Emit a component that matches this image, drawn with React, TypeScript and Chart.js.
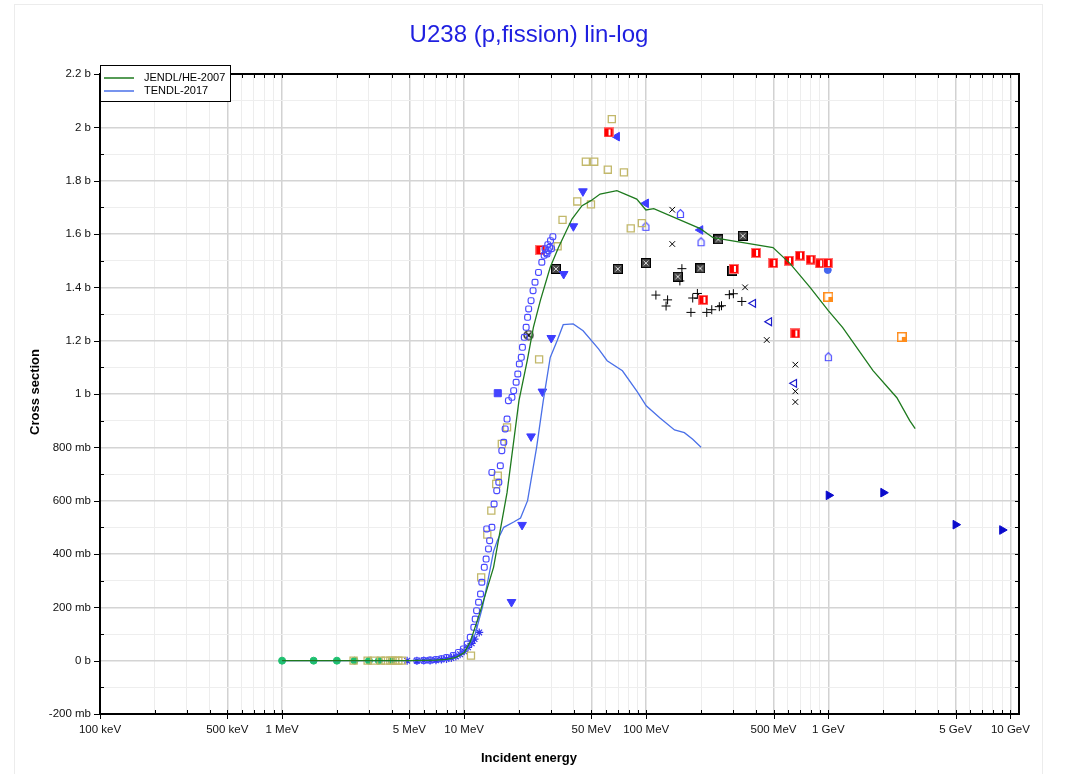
import { useEffect, useRef } from "react";
import { Chart, registerables } from "chart.js";
Chart.register(...registerables);

const FONT = '"Liberation Sans", Arial, Helvetica, sans-serif';

// Axis ranges (energy in MeV, cross section in barns)
const xMin = 0.1;
const xMax = 11150;
const yMin = -0.2;
const yMax = 2.2;

const xLabelValues = [0.1, 0.5, 1, 5, 10, 50, 100, 500, 1000, 5000, 10000];
const xLabels = ["100 keV", "500 keV", "1 MeV", "5 MeV", "10 MeV", "50 MeV", "100 MeV", "500 MeV", "1 GeV", "5 GeV", "10 GeV"];
const yLabelValues = [-0.2, 0, 0.2, 0.4, 0.6, 0.8, 1, 1.2, 1.4, 1.6, 1.8, 2, 2.2];
const yLabels = ["-200 mb", "0 b", "200 mb", "400 mb", "600 mb", "800 mb", "1 b", "1.2 b", "1.4 b", "1.6 b", "1.8 b", "2 b", "2.2 b"];

// Evaluated curves
const jendlE = [1, 2, 3, 4, 5, 6, 7, 8, 9, 10, 10.8, 12.2, 14.5, 17.2, 20, 22.2, 24, 26.2, 29.7, 33, 39.1, 44.4, 49.7, 55.8, 69, 88.7, 99.6, 110, 198, 233, 497, 617, 794, 1000, 1200, 1760, 2380, 2800, 3000];
const jendlS = [0, 0, 0, 0, 0.0005, 0.001, 0.002, 0.005, 0.012, 0.03, 0.07, 0.18, 0.35, 0.63, 0.975, 1.125, 1.25, 1.35, 1.475, 1.55, 1.656, 1.706, 1.725, 1.75, 1.7625, 1.731, 1.69, 1.695, 1.62, 1.586, 1.549, 1.489, 1.4, 1.3125, 1.249, 1.0875, 0.986, 0.9, 0.87];

const tendlE = [1, 2, 3, 4, 5, 6, 7, 8, 9, 10.2, 11.5, 12.6, 13.5, 14.5, 15.2, 16.5, 18.7, 20.4, 22.3, 25, 27.2, 29.7, 32.4, 35, 39.7, 45, 54.7, 61, 74, 89, 100, 119, 143, 162, 180, 200];
const tendlS = [0, 0, 0, 0, 0.0005, 0.001, 0.002, 0.004, 0.01, 0.035, 0.1, 0.2, 0.3, 0.41, 0.45, 0.5, 0.52, 0.535, 0.6, 0.8, 0.975, 1.137, 1.2, 1.26, 1.263, 1.237, 1.169, 1.125, 1.087, 1.01, 0.956, 0.91, 0.865, 0.855, 0.83, 0.8];

// Experimental data sets
const blueSqE = [5.5, 6, 6.5, 7, 7.5, 8, 8.7, 9.3, 9.9, 10.4, 10.8, 11.3, 11.5, 11.7, 12.0, 12.3, 12.5, 12.9, 13.2, 13.3, 13.6, 13.8, 14.2, 14.2, 14.6, 15.1, 15.5, 15.8, 16.1, 16.5, 16.8, 17.2, 17.5, 18.3, 18.7, 19.3, 19.7, 20.1, 20.6, 20.9, 21.4, 21.9, 22.3, 22.6, 23.3, 23.9, 24.5, 25.6, 26.7, 27.5, 27.8, 28.2, 28.5, 28.8, 29, 29.5, 29.8, 30.2, 30.7];
const blueSqS = [0, 0.001, 0.002, 0.004, 0.007, 0.012, 0.019, 0.031, 0.044, 0.0625, 0.0875, 0.125, 0.156, 0.1875, 0.219, 0.25, 0.294, 0.35, 0.381, 0.494, 0.419, 0.45, 0.5, 0.706, 0.5875, 0.6375, 0.669, 0.731, 0.7875, 0.819, 0.869, 0.906, 0.975, 0.9875, 1.0125, 1.044, 1.075, 1.1125, 1.1375, 1.175, 1.2125, 1.25, 1.2875, 1.319, 1.35, 1.3875, 1.419, 1.456, 1.494, 1.52, 1.545, 1.53, 1.525, 1.56, 1.5375, 1.55, 1.575, 1.545, 1.59];

const oliveE = [2.47, 2.95, 3.2, 3.49, 3.7, 3.93, 4.05, 4.19, 4.35, 4.56, 10.9, 12.4, 13.4, 14.1, 15.0, 15.3, 16.1, 17.2, 25.8, 32.6, 34.7, 41.8, 46.6, 49.7, 51.8, 61.5, 64.7, 75.4, 82.2, 94.6];
const oliveS = [0, 0, 0, 0, 0, 0, 0, 0, 0, 0, 0.019, 0.3125, 0.4725, 0.5625, 0.6625, 0.694, 0.8125, 0.875, 1.13, 1.554, 1.653, 1.722, 1.871, 1.711, 1.871, 1.841, 2.031, 1.831, 1.621, 1.641];

const greenE = [1.0, 1.49, 2.0, 2.5, 3.0, 3.4, 4.0];
const greenS = [0, 0, 0, 0, 0, 0, 0];

const starE = [4.86, 5.5, 6.0, 6.5, 7.0, 7.5, 8.0, 8.5, 9.0, 9.5, 10.0, 10.5, 11.0, 11.4, 12.1];
const starS = [0, 0, 0.001, 0.001, 0.002, 0.004, 0.006, 0.01, 0.016, 0.024, 0.035, 0.05, 0.065, 0.081, 0.106];

const downTriE = [18.2, 20.8, 23.3, 26.9, 30.1, 35.2, 39.8, 44.9];
const downTriS = [0.22, 0.509, 0.841, 1.009, 1.21, 1.45, 1.629, 1.76];

const redE = [26.2, 62.1, 206, 303, 401, 499, 608, 659, 699, 800, 901, 993];
const redS = [1.54, 1.981, 1.353, 1.469, 1.529, 1.491, 1.5, 1.227, 1.519, 1.504, 1.49, 1.491];

const boxXE = [31.9, 69.8, 99.6, 149, 198, 249, 297, 339];
const boxXS = [1.469, 1.469, 1.491, 1.44, 1.471, 1.58, 1.4625, 1.593];

const plusE = [113, 128.5, 131, 153, 157, 176, 180, 191, 194, 215, 229, 252, 259, 286, 301, 335];
const plusS = [1.371, 1.33, 1.353, 1.424, 1.47, 1.306, 1.36, 1.377, 1.359, 1.306, 1.316, 1.3275, 1.331, 1.3725, 1.376, 1.347];

const xMarkE = [139, 139, 349, 459, 659, 659, 659];
const xMarkS = [1.691, 1.5625, 1.4, 1.2025, 1.11, 1.01, 0.97];

const leftTriE = [69, 99.6, 198];
const leftTriS = [1.965, 1.715, 1.615];

const houseE = [99.6, 154, 200, 1000];
const houseS = [1.629, 1.677, 1.571, 1.14];

const openLeftE = [387, 474, 650];
const openLeftS = [1.34, 1.271, 1.04];

const rightTriE = [1005, 2005, 5000, 9016];
const rightTriS = [0.62, 0.63, 0.51, 0.49];

const orangeE = [1000, 2535];
const orangeS = [1.364, 1.214];

const blueFillE = [15.3];
const blueFillS = [1.003];

const blueDotE = [993];
const blueDotS = [1.465];

const circXE = [22.6];
const circXS = [1.221];

const pts = (E: number[], S: number[]) => E.map((e, i) => ({ x: e, y: S[i] }));
const near = (a: number, b: number) => Math.abs(a - b) < 1e-6 * Math.max(1, Math.abs(b));

function xGridValues(): number[] {
  const out: number[] = [];
  for (let e = -1; e <= 4; e++)
    for (let m = 1; m <= 9; m++) {
      const v = Number((m * Math.pow(10, e)).toPrecision(6));
      if (v >= xMin && v <= xMax) out.push(v);
    }
  return out;
}
function yGridValues(): number[] {
  const out: number[] = [];
  for (let i = -2; i <= 22; i++) out.push(i / 10);
  return out;
}
const isXMajor = (v: number) => xLabelValues.some((l) => near(l, v));
const isYMajor = (v: number) => yLabelValues.some((l) => near(l, v));

function mk(w: number, h: number, draw: (c: CanvasRenderingContext2D) => void) {
  const c = document.createElement("canvas");
  c.width = w;
  c.height = h;
  draw(c.getContext("2d") as CanvasRenderingContext2D);
  return c;
}

const decor = {
  id: "decor",
  beforeDraw(chart: any) {
    const ctx = chart.ctx;
    ctx.save();
    ctx.strokeStyle = "#ececec";
    ctx.lineWidth = 1;
    ctx.strokeRect(14.5, 4.5, 1028, 820);
    ctx.restore();
  },
  afterDraw(chart: any) {
    const { ctx, chartArea: a, scales } = chart;
    const xs = scales.x;
    const ys = scales.y;
    ctx.save();
    ctx.strokeStyle = "#000";
    ctx.lineWidth = 1;
    ctx.beginPath();
    for (const v of xGridValues()) {
      const px = Math.round(xs.getPixelForValue(v)) + 0.5;
      const maj = isXMajor(v);
      ctx.moveTo(px, a.bottom - 4);
      ctx.lineTo(px, a.bottom + (maj ? 5 : 0));
      ctx.moveTo(px, a.top);
      ctx.lineTo(px, a.top + 4);
    }
    for (const v of yGridValues()) {
      const py = Math.round(ys.getPixelForValue(v)) + 0.5;
      const maj = isYMajor(v);
      if (maj) {
        ctx.moveTo(a.left - 6, py);
        ctx.lineTo(a.left, py);
      } else {
        ctx.moveTo(a.left, py);
        ctx.lineTo(a.left + 4, py);
      }
      ctx.moveTo(a.right - 4, py);
      ctx.lineTo(a.right, py);
    }
    ctx.stroke();
    ctx.lineWidth = 2;
    ctx.strokeRect(a.left, a.top, a.right - a.left, a.bottom - a.top);

    // title
    ctx.fillStyle = "#1f1fe0";
    ctx.font = `24px ${FONT}`;
    ctx.textAlign = "center";
    ctx.textBaseline = "middle";
    ctx.fillText("U238 (p,fission) lin-log", 529, 35);

    // axis titles
    ctx.fillStyle = "#000";
    ctx.font = `bold 13px ${FONT}`;
    ctx.fillText("Incident energy", 529, 758);
    ctx.save();
    ctx.translate(35, 392);
    ctx.rotate(-Math.PI / 2);
    ctx.fillText("Cross section", 0, 0);
    ctx.restore();

    // legend
    ctx.fillStyle = "#fff";
    ctx.fillRect(100, 65, 130, 37);
    ctx.lineWidth = 1;
    ctx.strokeStyle = "#000";
    ctx.strokeRect(100.5, 65.5, 130, 36);
    const items = [
      { label: "JENDL/HE-2007", color: "#1e7a1e", y: 78 },
      { label: "TENDL-2017", color: "#4a70e8", y: 91 },
    ];
    ctx.font = `11px ${FONT}`;
    ctx.textAlign = "left";
    for (const it of items) {
      ctx.strokeStyle = it.color;
      ctx.lineWidth = 1.5;
      ctx.beginPath();
      ctx.moveTo(104, it.y);
      ctx.lineTo(134, it.y);
      ctx.stroke();
      ctx.fillStyle = "#000";
      ctx.fillText(it.label, 144, it.y);
    }
    ctx.restore();
  },
};

export default function App() {
  const ref = useRef<HTMLCanvasElement | null>(null);
  useEffect(() => {
    if (!ref.current) return;

    const redHalf = mk(10, 10, (c) => {
      c.fillStyle = "#ff0000";
      c.fillRect(0, 0, 10, 10);
      c.strokeStyle = "#ff7070";
      c.strokeRect(0.5, 0.5, 9, 9);
      c.fillStyle = "#ffffff";
      c.fillRect(5, 2, 2, 6);
    });
    const boxX = mk(10, 10, (c) => {
      c.fillStyle = "#444";
      c.fillRect(0, 0, 10, 10);
      c.strokeStyle = "#000";
      c.strokeRect(0.5, 0.5, 9, 9);
      c.strokeStyle = "#ddd";
      c.lineWidth = 1;
      c.beginPath();
      c.moveTo(2.5, 2.5);
      c.lineTo(7.5, 7.5);
      c.moveTo(7.5, 2.5);
      c.lineTo(2.5, 7.5);
      c.stroke();
    });
    const house = mk(9, 11, (c) => {
      c.strokeStyle = "#4a4aff";
      c.lineWidth = 1.2;
      c.beginPath();
      c.moveTo(1.5, 9.5);
      c.lineTo(1.5, 4.5);
      c.lineTo(4.5, 1.5);
      c.lineTo(7.5, 4.5);
      c.lineTo(7.5, 9.5);
      c.closePath();
      c.stroke();
    });
    const orange = mk(10, 10, (c) => {
      c.fillStyle = "#fff";
      c.fillRect(0, 0, 10, 10);
      c.strokeStyle = "#ff8c1a";
      c.lineWidth = 1.5;
      c.strokeRect(0.75, 0.75, 8.5, 8.5);
      c.fillStyle = "#ff8c1a";
      c.fillRect(5, 5, 4, 4);
    });
    const circX = mk(11, 11, (c) => {
      c.strokeStyle = "#000";
      c.lineWidth = 1.2;
      c.beginPath();
      c.arc(5.5, 5.5, 4.5, 0, Math.PI * 2);
      c.moveTo(3, 3);
      c.lineTo(8, 8);
      c.moveTo(8, 3);
      c.lineTo(3, 8);
      c.stroke();
    });

    const none = "rgba(255,255,255,0)";
    const chart = new Chart(ref.current, {
      type: "scatter",
      data: {
        datasets: [
          { label: "JENDL/HE-2007", data: pts(jendlE, jendlS), showLine: true, borderColor: "#1e7a1e", borderWidth: 1.3, pointRadius: 0, tension: 0 },
          { label: "TENDL-2017", data: pts(tendlE, tendlS), showLine: true, borderColor: "#4a70e8", borderWidth: 1.3, pointRadius: 0, tension: 0 },
          { label: "blueSq", data: pts(blueSqE, blueSqS), pointStyle: "rectRounded", pointRadius: 3.4, borderColor: "#4a4aff", backgroundColor: none, borderWidth: 1.2 },
          { label: "olive", data: pts(oliveE, oliveS), pointStyle: "rect", pointRadius: 5, borderColor: "#c2b86a", backgroundColor: none, borderWidth: 1.3 },
          { label: "green", data: pts(greenE, greenS), pointStyle: "circle", pointRadius: 3.5, borderColor: "#1fc070", backgroundColor: "#1fc070" },
          { label: "star", data: pts(starE, starS), pointStyle: "star", pointRadius: 4, borderColor: "#3333ee", borderWidth: 1.2 },
          { label: "down", data: pts(downTriE, downTriS), pointStyle: "triangle", rotation: 180, pointRadius: 5, borderColor: "#3d3dff", backgroundColor: "#3d3dff" },
          { label: "red", data: pts(redE, redS), pointStyle: redHalf, pointRadius: 5 },
          { label: "boxX", data: pts(boxXE, boxXS), pointStyle: boxX, pointRadius: 5 },
          { label: "plus", data: pts(plusE, plusS), pointStyle: "cross", pointRadius: 4.5, borderColor: "#000", borderWidth: 1 },
          { label: "xmark", data: pts(xMarkE, xMarkS), pointStyle: "crossRot", pointRadius: 4, borderColor: "#000", borderWidth: 1 },
          { label: "left", data: pts(leftTriE, leftTriS), pointStyle: "triangle", rotation: 270, pointRadius: 5, borderColor: "#3d3dff", backgroundColor: "#3d3dff" },
          { label: "house", data: pts(houseE, houseS), pointStyle: house, pointRadius: 5 },
          { label: "openLeft", data: pts(openLeftE, openLeftS), pointStyle: "triangle", rotation: 270, pointRadius: 4.5, borderColor: "#1a1acc", backgroundColor: none, borderWidth: 1.2 },
          { label: "right", data: pts(rightTriE, rightTriS), pointStyle: "triangle", rotation: 90, pointRadius: 5, borderColor: "#0a0acc", backgroundColor: "#0a0acc" },
          { label: "orange", data: pts(orangeE, orangeS), pointStyle: orange, pointRadius: 5 },
          { label: "blueFill", data: pts(blueFillE, blueFillS), pointStyle: "rect", pointRadius: 5, borderColor: "#4444ff", backgroundColor: "#4444ff" },
          { label: "blueDot", data: pts(blueDotE, blueDotS), pointStyle: "circle", pointRadius: 3.5, borderColor: "#4466ee", backgroundColor: "#4466ee" },
          { label: "circX", data: pts(circXE, circXS), pointStyle: circX, pointRadius: 5 },
        ] as any,
      },
      options: {
        responsive: false,
        animation: false,
        events: [],
        layout: { padding: { left: 0, top: 74, right: 48, bottom: 0 } },
        plugins: { legend: { display: false }, tooltip: { enabled: false }, title: { display: false } },
        scales: {
          x: {
            type: "logarithmic",
            min: xMin,
            max: xMax,
            afterFit: (s: any) => {
              s.height = 60;
            },
            afterBuildTicks: (s: any) => {
              s.ticks = xGridValues().map((v) => ({ value: v }));
            },
            ticks: {
              autoSkip: false,
              maxRotation: 0,
              padding: 9,
              color: "#111",
              font: { family: FONT, size: 11.5 },
              callback: (v: any) => {
                const i = xLabelValues.findIndex((l) => near(l, Number(v)));
                return i >= 0 ? xLabels[i] : "";
              },
            },
            grid: {
              drawTicks: false,
              color: (c: any) => (isXMajor(c.tick.value) ? "#d2d2d2" : "#ededed"),
              lineWidth: (c: any) => (isXMajor(c.tick.value) ? 1.5 : 1),
            },
            border: { display: false },
          },
          y: {
            type: "linear",
            min: yMin,
            max: yMax,
            afterFit: (s: any) => {
              s.width = 100;
            },
            afterBuildTicks: (s: any) => {
              s.ticks = yGridValues().map((v) => ({ value: v }));
            },
            ticks: {
              autoSkip: false,
              padding: 9,
              color: "#111",
              font: { family: FONT, size: 11.5 },
              callback: (v: any) => {
                const i = yLabelValues.findIndex((l) => near(l, Number(v)));
                return i >= 0 ? yLabels[i] : "";
              },
            },
            grid: {
              drawTicks: false,
              color: (c: any) => (isYMajor(c.tick.value) ? "#d4d4d4" : "#eeeeee"),
              lineWidth: (c: any) => (isYMajor(c.tick.value) ? 1.5 : 1),
            },
            border: { display: false },
          },
        },
      },
      plugins: [decor],
    } as any);
    return () => chart.destroy();
  }, []);

  return (
    <div style={{ position: "fixed", left: 0, top: 0, width: 1067, height: 774, background: "#fff" }}>
      <canvas ref={ref} width={1067} height={774} style={{ width: 1067, height: 774, display: "block" }} />
    </div>
  );
}
